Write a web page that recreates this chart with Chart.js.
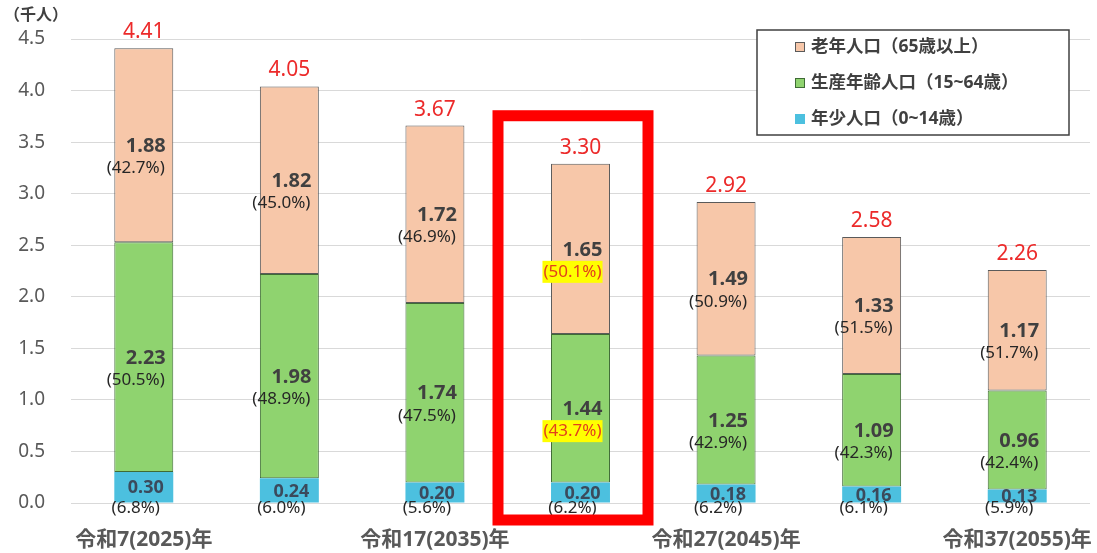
<!DOCTYPE html>
<html>
<head>
<meta charset="utf-8">
<script src="https://cdn.jsdelivr.net/npm/chart.js@4.4.1/dist/chart.umd.min.js"></script>
<style>
  body { margin: 0; background: #fff; }
  #wrap { position: relative; width: 1097px; height: 553px; }
</style>
</head>
<body>
<div id="wrap"><canvas id="chart1" width="1097" height="553"></canvas></div>
<script>
// 年次
const years = ['令和7(2025)年', '令和12(2030)年', '令和17(2035)年', '令和22(2040)年', '令和27(2045)年', '令和32(2050)年', '令和37(2055)年']

// 人口（千人）
const youngPop = [0.30, 0.24, 0.20, 0.20, 0.18, 0.16, 0.13]
const workingPop = [2.23, 1.98, 1.74, 1.44, 1.25, 1.09, 0.96]
const oldPop = [1.88, 1.82, 1.72, 1.65, 1.49, 1.33, 1.17]
const totalPop = [4.41, 4.05, 3.67, 3.30, 2.92, 2.58, 2.26]

// 構成比（%）
const youngPct = [6.8, 6.0, 5.6, 6.2, 6.2, 6.1, 5.9]
const workingPct = [50.5, 48.9, 47.5, 43.7, 42.9, 42.3, 42.4]
const oldPct = [42.7, 45.0, 46.9, 50.1, 50.9, 51.5, 51.7]

const yTicks = [0, 0.5, 1.0, 1.5, 2.0, 2.5, 3.0, 3.5, 4.0, 4.5]
const legendNames = ['老年人口（65歳以上）', '生産年齢人口（15~64歳）', '年少人口（0~14歳）']
const highlightIndex = 3

const FONT = '"Noto Sans", "Noto Sans CJK JP", sans-serif'

const labelPlugin = {
    id: 'labels',
    afterDatasetsDraw(chart) {
        const ctx = chart.ctx
        const pcts = [youngPct, workingPct, oldPct]
        ctx.save()
        ctx.textAlign = 'center'
        ctx.textBaseline = 'middle'

        chart.data.datasets.forEach((ds, di) => {
            const meta = chart.getDatasetMeta(di)
            meta.data.forEach((bar, i) => {
                const top = bar.y
                const bottom = bar.base
                const cy = (top + bottom) / 2
                const cx = bar.x

                // 数値
                ctx.font = 'bold ' + (di === 0 ? 18 : 20) + 'px ' + FONT
                ctx.fillStyle = di === 0 ? '#3b4a5c' : '#404040'
                ctx.fillText(ds.data[i].toFixed(2), cx + 2, cy + 1)

                // 構成比
                const txt = '(' + pcts[di][i].toFixed(1) + '%)'
                const py = di === 0 ? bottom + 6 : cy + 23
                const px = cx - 8
                ctx.font = '17px ' + FONT
                if (i === highlightIndex && di > 0) {
                    const w = ctx.measureText(txt).width
                    ctx.fillStyle = '#ffff00'
                    ctx.fillRect(px - w / 2 - 1, py - 11, w + 2, 22)
                    ctx.fillStyle = '#e2401c'
                } else {
                    ctx.fillStyle = '#262626'
                }
                ctx.fillText(txt, px, py)
            })
        })

        // 合計
        const last = chart.getDatasetMeta(2)
        ctx.font = '21px ' + FONT
        ctx.fillStyle = '#ec2a2a'
        last.data.forEach((bar, i) => {
            ctx.fillText(totalPop[i].toFixed(2), bar.x, bar.y - 16)
        })
        ctx.restore()
    }
}

const extrasPlugin = {
    id: 'extras',
    afterDraw(chart) {
        const ctx = chart.ctx
        const x = chart.scales.x
        const y = chart.scales.y
        ctx.save()

        // 単位
        ctx.font = 'bold 16px ' + FONT
        ctx.fillStyle = '#404040'
        ctx.textAlign = 'left'
        ctx.textBaseline = 'middle'
        ctx.fillText('（千人）', 4, 15)

        // 強調枠
        const cx = x.getPixelForValue(highlightIndex)
        const t = y.getPixelForValue(totalPop[highlightIndex]) - 47
        const b = y.getPixelForValue(0) + 17
        ctx.strokeStyle = '#ff0000'
        ctx.lineWidth = 11
        ctx.strokeRect(cx - 82.5, t, 150, b - t)

        // 凡例
        ctx.fillStyle = '#ffffff'
        ctx.fillRect(757, 30, 312, 105)
        ctx.strokeStyle = '#404040'
        ctx.lineWidth = 1.5
        ctx.strokeRect(757, 30, 312, 105)
        const ds = chart.data.datasets
        const order = [2, 1, 0]
        const rows = [47, 83, 119]
        order.forEach((di, k) => {
            ctx.fillStyle = ds[di].backgroundColor
            ctx.fillRect(795, rows[k] - 5, 10, 10)
            if (di > 0) {
                ctx.strokeStyle = ds[di].borderColor
                ctx.lineWidth = 1
                ctx.strokeRect(795.5, rows[k] - 4.5, 9, 9)
            }
            ctx.fillStyle = '#404040'
            ctx.font = 'bold 17.5px ' + FONT
            ctx.fillText(legendNames[k], 811, rows[k])
        })
        ctx.restore()
    }
}

function renderChart() {
    const ctx = document.querySelector('#chart1').getContext('2d')

    new Chart(ctx, {
        type: 'bar',
        data: {
            labels: years,
            datasets: [
                {
                    label: legendNames[2],
                    data: youngPop,
                    backgroundColor: '#4cc0df',
                    borderWidth: 0
                },
                {
                    label: legendNames[1],
                    data: workingPop,
                    backgroundColor: '#8fd36f',
                    borderColor: '#3f6b35',
                    borderWidth: 1,
                    borderSkipped: false
                },
                {
                    label: legendNames[0],
                    data: oldPop,
                    backgroundColor: '#f7c7a9',
                    borderColor: '#5a5a5a',
                    borderWidth: 1,
                    borderSkipped: false
                }
            ]
        },
        options: {
            responsive: false,
            animation: false,
            layout: { padding: { top: 39, right: 7, left: 0, bottom: 0 } },
            plugins: {
                legend: { display: false },
                tooltip: { enabled: false }
            },
            datasets: {
                bar: { categoryPercentage: 0.405, barPercentage: 1 }
            },
            scales: {
                x: {
                    stacked: true,
                    grid: { display: false },
                    border: { display: false },
                    afterFit: s => {
                        s.height = 50
                        s.paddingLeft = 0
                        s.paddingRight = 0
                    },
                    ticks: {
                        autoSkip: false,
                        maxRotation: 0,
                        padding: 16,
                        color: '#595959',
                        font: { family: FONT, size: 21, weight: 'bold' },
                        callback: (v, i) => i % 2 === 0 ? years[i] : ''
                    }
                },
                y: {
                    stacked: true,
                    min: 0,
                    max: 4.5,
                    afterFit: s => { s.width = 71 },
                    afterBuildTicks: s => { s.ticks = yTicks.map(v => ({ value: v })) },
                    grid: { color: '#d9d9d9', drawTicks: false },
                    border: { display: false },
                    ticks: {
                        padding: 26,
                        color: '#595959',
                        font: { family: FONT, size: 19 },
                        callback: v => v.toFixed(1)
                    }
                }
            }
        },
        plugins: [labelPlugin, extrasPlugin]
    })
}

renderChart()
</script>
</body>
</html>
